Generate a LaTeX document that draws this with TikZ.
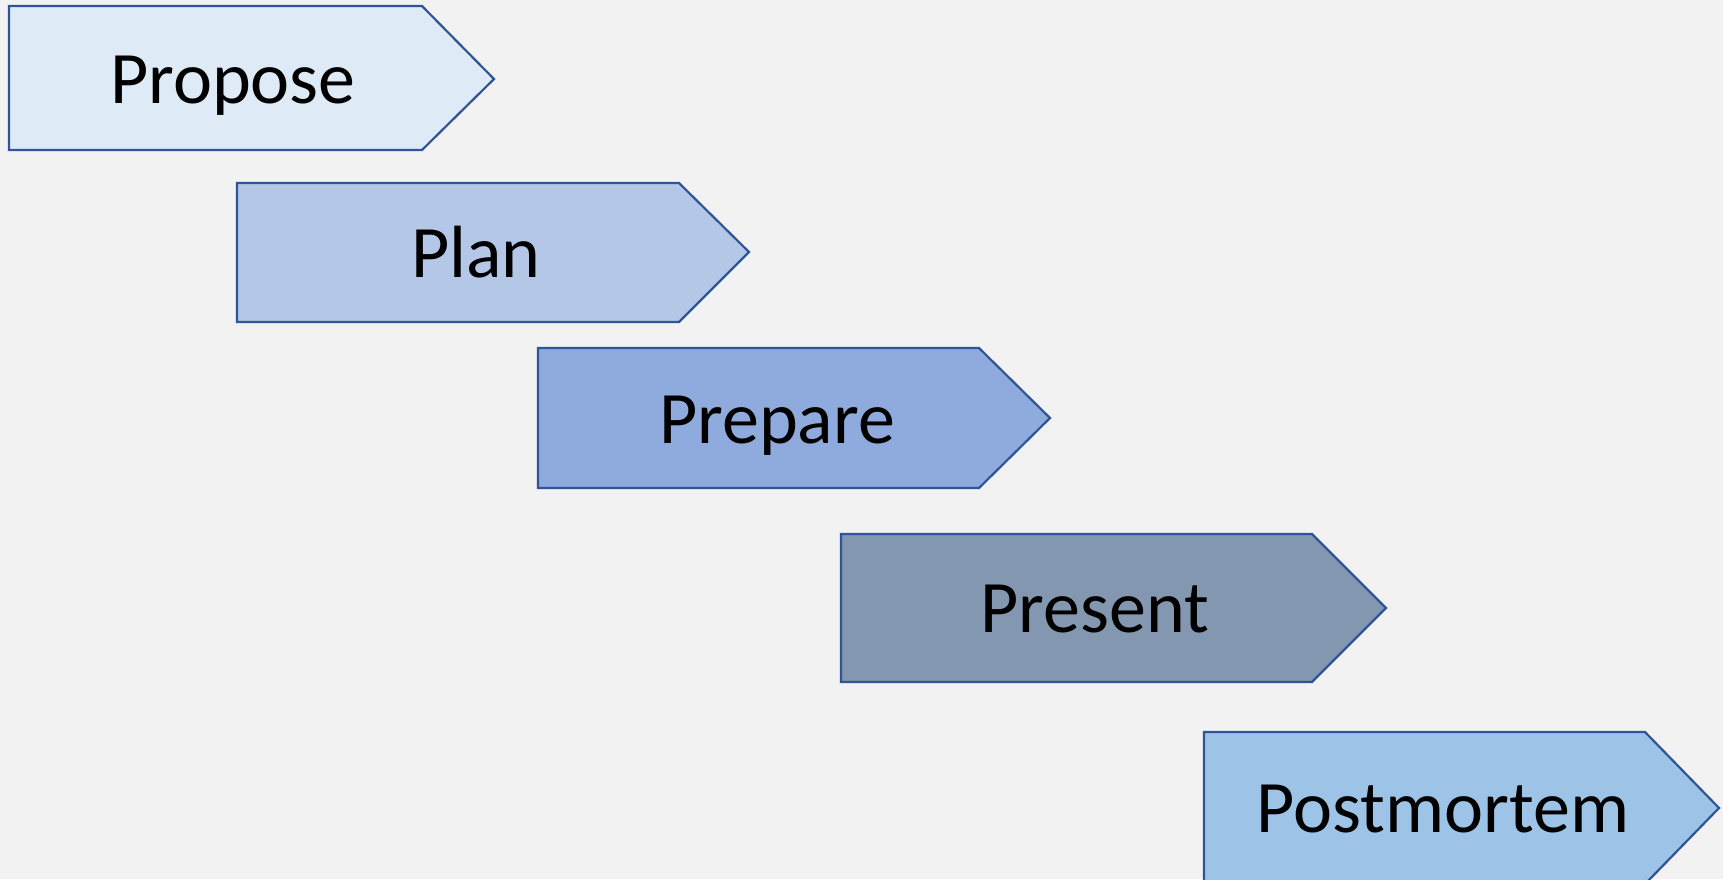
\documentclass[tikz,border=0pt]{standalone}
\usepackage{fontspec}
\setmainfont{Carlito}
\definecolor{bg}{HTML}{F2F2F2}
\definecolor{edge}{HTML}{2F5597}
\definecolor{cpropose}{HTML}{DEEBF7}
\definecolor{cplan}{HTML}{B4C7E7}
\definecolor{cprepare}{HTML}{8FAADC}
\definecolor{cpresent}{HTML}{8497B0}
\definecolor{cpost}{HTML}{9DC3E6}
\begin{document}
\begin{tikzpicture}[x=1pt,y=-1pt,
  stage/.style={draw=edge, line width=2.2pt, line join=miter},
  stagelabel/.style={font=\fontsize{74}{88}\selectfont, anchor=base, inner sep=0pt, text=black}]
\fill[bg] (0,0) rectangle (1723,879);
\useasboundingbox (0,0) rectangle (1723,879);
\clip (0,0) rectangle (1723,879);
% Propose
\draw[stage, fill=cpropose] (9,6) -- (422,6) -- (494,79) -- (422,150) -- (9,150) -- cycle;
\node[stagelabel] (propose) at (233,103) {Propose};
% Plan
\draw[stage, fill=cplan] (237,183) -- (679,183) -- (749,252) -- (679,322) -- (237,322) -- cycle;
\node[stagelabel] (plan) at (476,277) {Plan};
% Prepare
\draw[stage, fill=cprepare] (538,348) -- (979,348) -- (1050,418) -- (979,488) -- (538,488) -- cycle;
\node[stagelabel] (prepare) at (777,443) {Prepare};
% Present
\draw[stage, fill=cpresent] (841,534) -- (1312,534) -- (1386,608) -- (1312,682) -- (841,682) -- cycle;
\node[stagelabel] (present) at (1095,632) {Present};
% Postmortem
\draw[stage, fill=cpost] (1204,732) -- (1645,732) -- (1719,808) -- (1645,884) -- (1204,884) -- cycle;
\node[stagelabel] (postmortem) at (1443,832) {Postmortem};
\end{tikzpicture}
\end{document}
